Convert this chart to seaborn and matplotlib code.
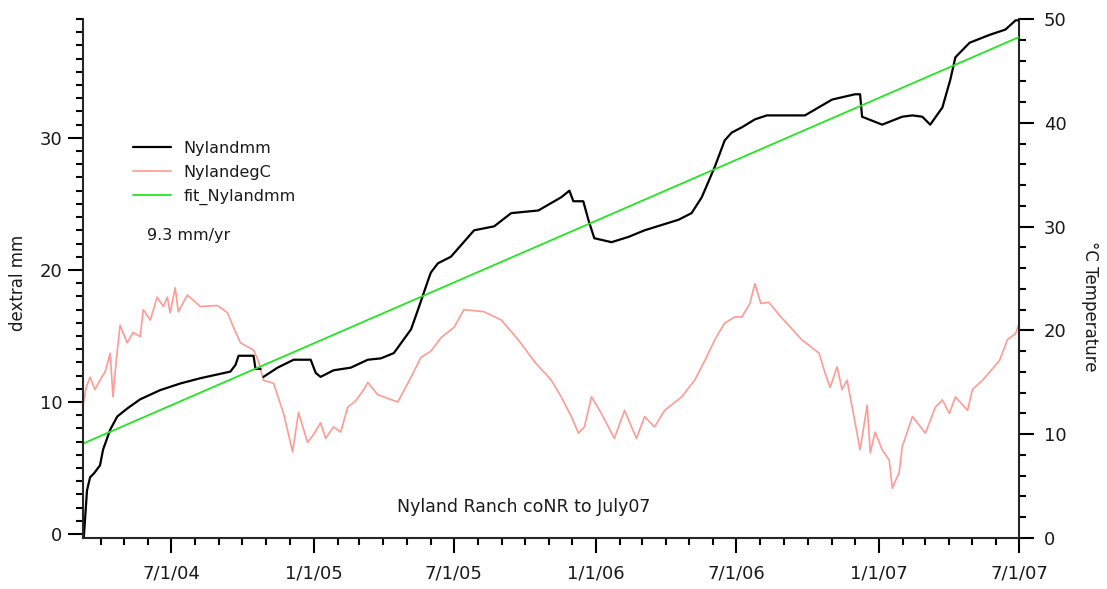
import numpy as np
import pandas as pd
import matplotlib
matplotlib.use("Agg")
import matplotlib.pyplot as plt
import matplotlib.dates as mdates
from matplotlib.ticker import FuncFormatter, MultipleLocator
import seaborn as sns

# Creep meter record, sample times in decimal years
mm_time = [2004.188, 2004.191, 2004.202, 2004.213, 2004.227, 2004.248, 2004.259, 2004.284,
           2004.309, 2004.344, 2004.390, 2004.461, 2004.532, 2004.603, 2004.709, 2004.727,
           2004.738, 2004.791, 2004.798, 2004.816,
           2004.826, 2004.876, 2004.933, 2004.993, 2005.011, 2005.028, 2005.074, 2005.135,
           2005.195, 2005.241, 2005.287, 2005.348, 2005.376, 2005.408, 2005.418, 2005.443,
           2005.489, 2005.571, 2005.642, 2005.702, 2005.798, 2005.879, 2005.908, 2005.922,
           2005.957, 2005.975, 2005.996, 2006.057, 2006.117, 2006.174, 2006.294, 2006.340,
           2006.376, 2006.422, 2006.457, 2006.482, 2006.518, 2006.564, 2006.606, 2006.741,
           2006.837, 2006.918, 2006.936, 2006.943, 2007.014, 2007.085, 2007.121, 2007.156,
           2007.184, 2007.227, 2007.255, 2007.273, 2007.323, 2007.394, 2007.450, 2007.486,
           2007.503]
mm_value = [0.0, -0.2, 3.3, 4.3, 4.6, 5.2, 6.4, 7.9,
            8.9, 9.5, 10.2, 10.9, 11.4, 11.8, 12.3, 12.8,
            13.5, 13.5, 12.5, 12.5,
            11.9, 12.6, 13.2, 13.2, 12.2, 11.9, 12.4, 12.6,
            13.2, 13.3, 13.7, 15.5, 17.2, 19.2, 19.8, 20.5,
            21.0, 23.0, 23.3, 24.3, 24.5, 25.5, 26.0, 25.2,
            25.2, 23.8, 22.4, 22.1, 22.5, 23.0, 23.8, 24.3,
            25.5, 27.8, 29.8, 30.4, 30.8, 31.4, 31.7, 31.7,
            32.9, 33.3, 33.3, 31.6, 31.0, 31.6, 31.7, 31.6,
            31.0, 32.3, 34.4, 36.1, 37.2, 37.8, 38.2, 38.9,
            38.9]
# record segments (data break in late 2004)
mm_segment = [0] * 20 + [1] * (len(mm_time) - 20)

# Instrument temperature, degrees C
degc_time = [2004.188, 2004.199, 2004.213, 2004.230, 2004.248, 2004.266, 2004.284, 2004.294,
             2004.305, 2004.319, 2004.344, 2004.365, 2004.390, 2004.401, 2004.426, 2004.450,
             2004.472, 2004.486, 2004.496, 2004.514, 2004.525, 2004.557, 2004.603, 2004.663,
             2004.699, 2004.720, 2004.745, 2004.791, 2004.809, 2004.826, 2004.862, 2004.897,
             2004.911, 2004.929, 2004.950, 2004.982, 2005.004, 2005.028, 2005.046, 2005.074,
             2005.099, 2005.124, 2005.152, 2005.181, 2005.195, 2005.230, 2005.301, 2005.348,
             2005.383, 2005.418, 2005.454, 2005.500, 2005.535, 2005.606, 2005.667, 2005.727,
             2005.784, 2005.844, 2005.879, 2005.915, 2005.940, 2005.961, 2005.986, 2006.021,
             2006.067, 2006.103, 2006.145, 2006.174, 2006.209, 2006.245, 2006.305, 2006.351,
             2006.387, 2006.422, 2006.457, 2006.493, 2006.518, 2006.546, 2006.564, 2006.585,
             2006.613, 2006.656, 2006.730, 2006.791, 2006.812, 2006.830, 2006.855, 2006.872,
             2006.890, 2006.908, 2006.936, 2006.961, 2006.972, 2006.989, 2007.014, 2007.039,
             2007.050, 2007.074, 2007.085, 2007.121, 2007.167, 2007.202, 2007.227, 2007.252,
             2007.273, 2007.316, 2007.333, 2007.369, 2007.429, 2007.457, 2007.486, 2007.503]
degc_value = [12.8, 14.5, 15.5, 14.3, 15.2, 16.0, 17.8, 13.6,
              17.0, 20.5, 18.8, 19.8, 19.4, 22.0, 21.0, 23.2,
              22.3, 23.2, 21.7, 24.1, 21.8, 23.4, 22.3, 22.4,
              21.7, 20.3, 18.8, 18.1, 17.0, 15.2, 14.9, 12.0,
              10.4, 8.3, 12.1, 9.2, 10.0, 11.1, 9.6, 10.7,
              10.2, 12.6, 13.2, 14.3, 15.0, 13.8, 13.1, 15.5,
              17.4, 18.0, 19.3, 20.3, 22.0, 21.8, 21.0, 19.1,
              17.0, 15.2, 13.6, 11.7, 10.1, 10.7, 13.6, 12.0,
              9.6, 12.3, 9.6, 11.7, 10.7, 12.3, 13.6, 15.2,
              17.1, 19.1, 20.7, 21.3, 21.3, 22.6, 24.5, 22.6,
              22.7, 21.3, 19.1, 17.8, 15.9, 14.5, 16.5, 14.3,
              15.2, 12.6, 8.5, 12.8, 8.2, 10.2, 8.5, 7.5,
              4.8, 6.3, 8.8, 11.7, 10.1, 12.6, 13.3, 12.0,
              13.6, 12.3, 14.3, 15.2, 17.1, 19.1, 19.7, 21.0]

# Linear fit to displacement: rate in mm/yr and value at the record start
fit_rate = 9.3
fit_start = 6.85
fit_time = [2004.188, 2007.503]

start_date = "2004-03-09"
end_date = "2007-07-01"


def to_datetime(years):
    years = np.asarray(years, dtype=float)
    return pd.Timestamp("2004-07-01") + pd.to_timedelta((years - 2004.5) * 365.25, unit="D")


mm_df = pd.DataFrame({"time": to_datetime(mm_time), "mm": mm_value, "segment": mm_segment})
degc_df = pd.DataFrame({"time": to_datetime(degc_time), "degC": degc_value})
fit_years = np.array(fit_time)
fit_df = pd.DataFrame({"time": to_datetime(fit_years),
                       "fit": fit_start + fit_rate * (fit_years - fit_years[0])})

sns.set_style("ticks")
plt.rcParams["font.family"] = ["DejaVu Sans"]
plt.rcParams["axes.linewidth"] = 1.5

fig = plt.figure(figsize=(11.07, 5.89), dpi=100)
ax = fig.add_axes([83 / 1107, 51 / 589, 936 / 1107, 519 / 589])
ax2 = ax.twinx()

# temperature on the right-hand axis, underneath the displacement curves
sns.lineplot(data=degc_df, x="time", y="degC", ax=ax2, color="#ff9a94",
             linewidth=1.2, label="NylandegC", legend=False)
sns.lineplot(data=mm_df, x="time", y="mm", units="segment", estimator=None, ax=ax,
             color="black", linewidth=1.6, label="Nylandmm", legend=False)
sns.lineplot(data=fit_df, x="time", y="fit", ax=ax, color="#22e622",
             linewidth=1.3, label="fit_Nylandmm", legend=False)

ax.set_zorder(ax2.get_zorder() + 1)
ax.patch.set_visible(False)

ax.set_xlim(pd.Timestamp(start_date), pd.Timestamp(end_date))
ax.set_ylim(-0.3, 39.0)
ax2.set_ylim(0, 50)

ax.xaxis.set_major_locator(mdates.MonthLocator(bymonth=[1, 7]))
ax.xaxis.set_minor_locator(mdates.MonthLocator())
ax.xaxis.set_major_formatter(FuncFormatter(
    lambda v, pos: (lambda d: f"{d.month}/{d.day}/{d.year % 100:02d}")(mdates.num2date(v))))

ax.yaxis.set_major_locator(MultipleLocator(10))
ax.yaxis.set_minor_locator(MultipleLocator(1))
ax2.yaxis.set_major_locator(MultipleLocator(10))
ax2.yaxis.set_minor_locator(MultipleLocator(2))

for a in (ax, ax2):
    a.spines["top"].set_visible(False)
    a.set_xlabel("")
    a.set_ylabel("")
ax.spines["right"].set_visible(False)
ax2.spines["left"].set_visible(False)
ax2.spines["bottom"].set_visible(False)

ax.tick_params(axis="both", which="major", direction="out", length=11, width=1.5,
               labelsize=13, color="black", labelcolor="#1a1a1a")
ax.tick_params(axis="both", which="minor", direction="out", length=5, width=1.5, color="black")
ax.tick_params(axis="x", which="major", pad=8)
ax.tick_params(axis="y", which="major", pad=4)
ax2.tick_params(axis="y", which="major", direction="out", length=11, width=1.5,
                labelsize=13, pad=7, color="black", labelcolor="#1a1a1a")
ax2.tick_params(axis="y", which="minor", direction="out", length=5, width=1.5, color="black")

fig.text(18 / 1107, 1 - 283 / 589, "dextral mm", rotation=90, ha="center", va="center",
         fontsize=12, color="#1a1a1a")
fig.text(1090 / 1107, 1 - 306 / 589, "°C Temperature", rotation=270, ha="center", va="center",
         fontsize=12, color="#1a1a1a")

# one legend entry per series, gathered from both axes
entries = {}
for a in (ax, ax2):
    for h, l in zip(*a.get_legend_handles_labels()):
        entries.setdefault(l, h)
order = ["Nylandmm", "NylandegC", "fit_Nylandmm"]
ax.legend([entries[k] for k in order], order, loc="upper left", bbox_to_anchor=(0.053, 0.765),
          frameon=False, fontsize=11.5, handlelength=2.4, handletextpad=0.8, labelspacing=0.55,
          borderpad=0, borderaxespad=0, labelcolor="#1a1a1a")

ax.text(0.0684, 0.582, f"{fit_rate} mm/yr", transform=ax.transAxes, ha="left", va="center",
        fontsize=11.5, color="#1a1a1a")
ax.text(0.471, 0.060, "Nyland Ranch coNR to July07", transform=ax.transAxes, ha="center",
        va="center", fontsize=12.5, color="#1a1a1a")

fig.savefig("out.png", dpi=100)
